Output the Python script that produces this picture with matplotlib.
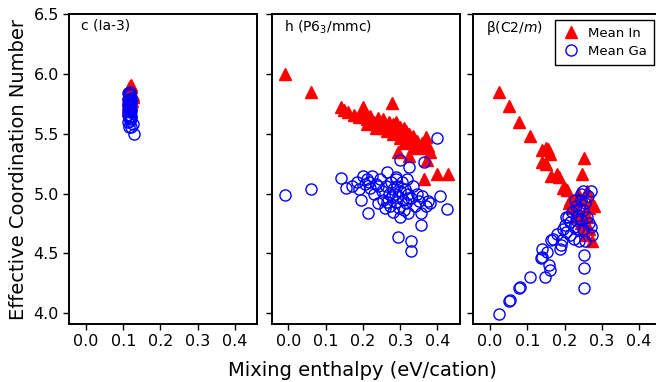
import matplotlib
matplotlib.use('Agg')
import matplotlib.pyplot as plt

# c (Ia-3)
c_in_x = [0.112, 0.114, 0.116, 0.118, 0.120, 0.122, 0.113, 0.115, 0.117, 0.119, 0.121,
          0.123, 0.125, 0.127, 0.112, 0.114, 0.118, 0.120, 0.124, 0.116, 0.113, 0.119]
c_in_y = [5.80, 5.84, 5.88, 5.90, 5.91, 5.89, 5.76, 5.82, 5.86, 5.87, 5.85,
          5.84, 5.82, 5.81, 5.72, 5.78, 5.83, 5.79, 5.77, 5.74, 5.70, 5.75]
c_ga_x = [0.113, 0.115, 0.117, 0.119, 0.121, 0.114, 0.116, 0.118, 0.120, 0.122,
          0.113, 0.115, 0.117, 0.119, 0.121, 0.116, 0.118, 0.120, 0.114, 0.119,
          0.122, 0.117, 0.113, 0.118, 0.125, 0.120, 0.128, 0.116, 0.121, 0.114]
c_ga_y = [5.84, 5.83, 5.82, 5.85, 5.80, 5.78, 5.79, 5.77, 5.76, 5.78,
          5.74, 5.73, 5.75, 5.72, 5.71, 5.70, 5.68, 5.69, 5.66, 5.64,
          5.65, 5.62, 5.60, 5.61, 5.58, 5.56, 5.50, 5.56, 5.63, 5.69]

# h (P6_3/mmc)
h_in_x = [-0.008, 0.060, 0.142, 0.150, 0.160, 0.175, 0.190, 0.200, 0.205, 0.210,
          0.220, 0.230, 0.240, 0.250, 0.255, 0.260, 0.270, 0.277, 0.280, 0.285,
          0.290, 0.295, 0.300, 0.305, 0.310, 0.315, 0.320, 0.325, 0.330, 0.335,
          0.340, 0.345, 0.350, 0.360, 0.365, 0.370, 0.375, 0.380, 0.294, 0.325,
          0.335, 0.365, 0.372, 0.400, 0.428, 0.210, 0.235, 0.265, 0.300, 0.280,
          0.310, 0.255]
h_in_y = [6.00, 5.85, 5.72, 5.70, 5.68, 5.66, 5.64, 5.72, 5.68, 5.62,
          5.65, 5.60, 5.63, 5.58, 5.62, 5.56, 5.60, 5.76, 5.58, 5.55,
          5.60, 5.52, 5.56, 5.50, 5.55, 5.52, 5.48, 5.50, 5.45, 5.48,
          5.42, 5.44, 5.40, 5.42, 5.38, 5.47, 5.40, 5.35, 5.35, 5.31,
          5.38, 5.12, 5.28, 5.16, 5.16, 5.58, 5.55, 5.52, 5.46, 5.50,
          5.42, 5.55]
h_ga_x = [-0.008, 0.060, 0.142, 0.155, 0.170, 0.185, 0.190, 0.196, 0.200, 0.205,
          0.210, 0.214, 0.220, 0.225, 0.230, 0.235, 0.240, 0.245, 0.250, 0.255,
          0.260, 0.262, 0.265, 0.270, 0.272, 0.275, 0.278, 0.280, 0.282, 0.285,
          0.288, 0.290, 0.292, 0.294, 0.295, 0.298, 0.300, 0.300, 0.305, 0.308,
          0.310, 0.312, 0.315, 0.318, 0.320, 0.322, 0.325, 0.328, 0.328, 0.330,
          0.335, 0.340, 0.345, 0.350, 0.355, 0.357, 0.360, 0.365, 0.370, 0.375,
          0.380, 0.400, 0.408, 0.425, 0.215, 0.240, 0.265, 0.290, 0.300, 0.320]
h_ga_y = [4.985, 5.04, 5.13, 5.05, 5.06, 5.10, 5.04, 4.95, 5.15, 5.08,
          5.12, 4.84, 5.05, 5.15, 5.00, 5.08, 4.92, 5.12, 5.02, 4.95,
          4.88, 5.06, 5.18, 5.00, 4.90, 5.10, 4.97, 5.04, 4.85, 5.00,
          5.14, 4.93, 5.06, 4.64, 4.98, 4.88, 5.28, 5.02, 5.10, 4.95,
          4.86, 5.04, 4.92, 5.12, 5.00, 4.84, 5.22, 4.60, 4.52, 4.96,
          5.06, 4.90, 5.00, 4.94, 4.84, 4.74, 4.98, 5.26, 4.90, 4.94,
          4.92, 5.46, 4.98, 4.87, 5.10, 5.06, 4.93, 5.12, 4.80, 4.96]

# beta (C2/m)
b_in_x = [0.023, 0.052, 0.079, 0.108, 0.139, 0.150, 0.155, 0.162, 0.140, 0.150,
          0.164, 0.186, 0.180, 0.195, 0.208, 0.200, 0.251, 0.246, 0.212, 0.220,
          0.230, 0.240, 0.250, 0.255, 0.260, 0.265, 0.270, 0.275, 0.245, 0.250,
          0.255, 0.265, 0.275, 0.230, 0.240, 0.220, 0.235, 0.260, 0.215, 0.280]
b_in_y = [5.85, 5.73, 5.60, 5.485, 5.36, 5.38, 5.37, 5.33, 5.26, 5.25,
          5.15, 5.14, 5.16, 5.05, 5.03, 5.05, 5.30, 5.16, 4.92, 4.95,
          4.90, 4.98, 4.95, 4.85, 4.80, 4.88, 4.92, 4.91, 4.75, 4.70,
          4.65, 4.70, 4.60, 4.80, 4.85, 4.88, 5.00, 5.02, 4.95, 4.90]
b_ga_x = [0.023, 0.052, 0.053, 0.079, 0.080, 0.108, 0.148, 0.162, 0.157, 0.136,
          0.140, 0.140, 0.152, 0.164, 0.168, 0.188, 0.190, 0.192, 0.251, 0.251,
          0.253, 0.266, 0.275, 0.272, 0.250, 0.180, 0.195, 0.200, 0.205, 0.210,
          0.215, 0.220, 0.225, 0.230, 0.235, 0.240, 0.245, 0.250, 0.255, 0.260,
          0.245, 0.235, 0.228, 0.240, 0.225, 0.255, 0.262, 0.270, 0.215, 0.205,
          0.245, 0.230, 0.250]
b_ga_y = [3.99, 4.10, 4.11, 4.21, 4.22, 4.30, 4.30, 4.36, 4.40, 4.46,
          4.47, 4.54, 4.51, 4.61, 4.62, 4.54, 4.57, 4.61, 4.21, 4.38,
          4.49, 4.75, 4.65, 5.02, 5.02, 4.66, 4.70, 4.74, 4.68, 4.80,
          4.76, 4.85, 4.72, 4.90, 4.82, 4.88, 4.95, 4.86, 4.92, 4.80,
          4.78, 4.70, 4.95, 4.60, 4.62, 4.60, 4.98, 4.72, 4.65, 4.80,
          5.00, 4.78, 4.70]

titles = ['c (Ia-3)', 'h (P6$_3$/mmc)', 'β(C2/$m$)']
panels = [(c_in_x, c_in_y, c_ga_x, c_ga_y),
          (h_in_x, h_in_y, h_ga_x, h_ga_y),
          (b_in_x, b_in_y, b_ga_x, b_ga_y)]
xticks = [0.0, 0.1, 0.2, 0.3, 0.4]
yticks = [4.0, 4.5, 5.0, 5.5, 6.0, 6.5]

fig = plt.figure(figsize=(6.56, 3.82), dpi=100)
lefts = [0.1056, 0.4142, 0.7215]
axes = []
for i, (inx, iny, gax, gay) in enumerate(panels):
    ax = fig.add_axes([lefts[i], 0.1518, 0.2866, 0.8115])
    ax.plot(inx, iny, '^', color='red', markersize=8, linestyle='none', label='Mean In')
    ax.plot(gax, gay, 'o', markerfacecolor='none', markeredgecolor='blue',
            markeredgewidth=1, markersize=8, linestyle='none', label='Mean Ga')
    ax.set_xlim(-0.045, 0.46)
    ax.set_ylim(3.91, 6.5)
    ax.set_xticks(xticks)
    ax.set_yticks(yticks)
    ax.tick_params(direction='out', length=4, width=1, labelsize=11.5)
    if i > 0:
        ax.set_yticklabels([])
    for s in ax.spines.values():
        s.set_linewidth(1.4)
    ax.text(0.065, 0.985, titles[i], transform=ax.transAxes, ha='left', va='top', fontsize=10)
    axes.append(ax)

axes[0].set_ylabel('Effective Coordination Number', fontsize=14)
# legend box sits in the top right of the last panel
leg = axes[2].legend(loc='upper left', bbox_to_anchor=(0.435, 0.98), borderaxespad=0,
                     fontsize=9.5, fancybox=False, edgecolor='black', framealpha=1,
                     handlelength=1.4, handletextpad=0.6, borderpad=0.5,
                     labelspacing=0.4)
leg.get_frame().set_linewidth(1)
fig.text(0.552, 0.03, 'Mixing enthalpy (eV/cation)', ha='center', va='center', fontsize=14)

plt.savefig('out.png', dpi=100)
